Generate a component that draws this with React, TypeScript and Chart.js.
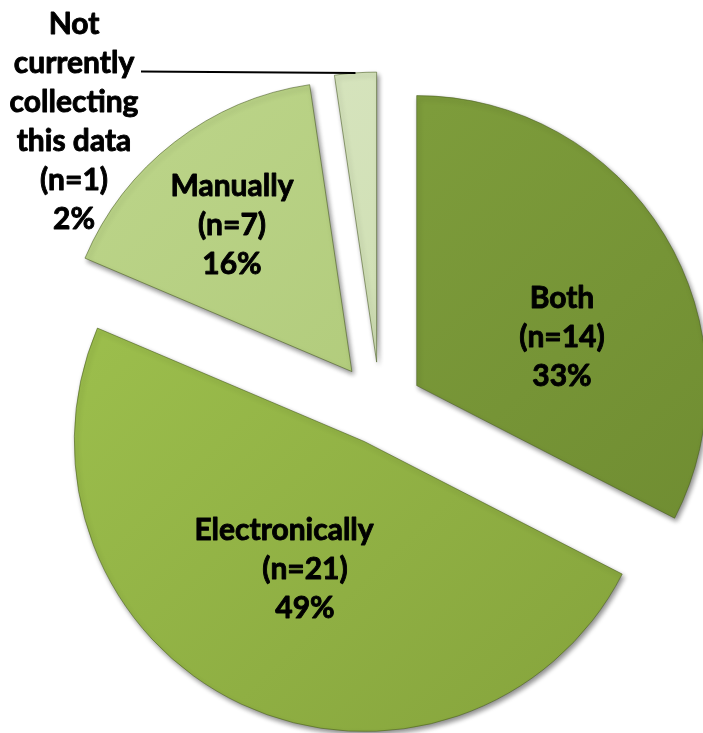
import React, { useEffect, useRef } from 'react';
import { Chart, registerables } from 'chart.js';

Chart.register(...registerables);

// ---- data ----
const CATEGORIES = ['Both', 'Electronically', 'Manually', 'Not currently collecting this data'];
const CATEGORY_LINES = [
  ['Both'],
  ['Electronically'],
  ['Manually'],
  ['Not', 'currently', 'collecting', 'this data'],
];
const COUNTS = [14, 21, 7, 1];

// ---- layout / style ----
const W = 703;
const H = 733;
const RADIUS = 290;
const PAD = { left: 57, right: 0, top: 83, bottom: 0 }; // pie centre at (380, 408)
const EXPLODE = [43, 37, 46, 46];
const SLICE_COLORS = [
  ['#87a742', '#6c892f'],
  ['#a6ca54', '#83a13a'],
  ['#c0d88f', '#a5c16b'],
  ['#dce8c6', '#c4d7a3'],
];
const LABEL_OFFSETS = [
  [182, -72],
  [-75, 160],
  [-148, -184],
  [-306, -287],
];
const FIRST_LINE_DX = [0, -21, 0, 0];
const LINE_H = 39;
const FONT_PX = 30;
const FONT = `bold ${FONT_PX}px Lato, Calibri, sans-serif`;

const total = COUNTS.reduce((a, b) => a + b, 0);
const pctText = (v: number) => `${Math.round((v / total) * 100)}%`;

const centerOf = (chart: any) => {
  const ca = chart.chartArea;
  return { cx: (ca.left + ca.right) / 2, cy: (ca.top + ca.bottom) / 2 };
};

const explodePlugin = {
  id: 'explodeSlices',
  beforeDatasetsDraw(chart: any) {
    const { cx, cy } = centerOf(chart);
    const meta = chart.getDatasetMeta(0);
    meta.data.forEach((el: any, i: number) => {
      const mid = (el.startAngle + el.endAngle) / 2;
      el.x = cx + Math.cos(mid) * EXPLODE[i];
      el.y = cy + Math.sin(mid) * EXPLODE[i];
    });
    const ctx = chart.ctx;
    ctx.save();
    ctx.shadowColor = 'rgba(0,0,0,0.45)';
    ctx.shadowBlur = 5;
    ctx.shadowOffsetX = 2;
    ctx.shadowOffsetY = 3;
  },
  afterDatasetsDraw(chart: any) {
    const ctx = chart.ctx;
    ctx.restore();
    const { cx, cy } = centerOf(chart);
    const meta = chart.getDatasetMeta(0);
    ctx.save();
    ctx.font = FONT;
    ctx.fillStyle = '#000';
    ctx.strokeStyle = '#000';
    ctx.lineWidth = 0.9;
    ctx.lineJoin = 'round';
    ctx.textAlign = 'center';
    ctx.textBaseline = 'alphabetic';
    const capHalf = FONT_PX * 0.36;
    CATEGORIES.forEach((_, i) => {
      const lines = [...CATEGORY_LINES[i], `(n=${COUNTS[i]})`, pctText(COUNTS[i])];
      const ax = cx + LABEL_OFFSETS[i][0];
      const ay = cy + LABEL_OFFSETS[i][1];
      const top = ay - ((lines.length - 1) / 2) * LINE_H;
      lines.forEach((ln, j) => {
        const dx = j === 0 ? FIRST_LINE_DX[i] : 0;
        ctx.fillText(ln, ax + dx, top + j * LINE_H + capHalf);
        ctx.strokeText(ln, ax + dx, top + j * LINE_H + capHalf);
      });
      if (i === 3) {
        const el: any = meta.data[i];
        const mid = (el.startAngle + el.endAngle) / 2;
        const ex = el.x + Math.cos(mid) * el.outerRadius;
        const ey = el.y + Math.sin(mid) * el.outerRadius;
        const sx = ax + 67;
        const sy = top + LINE_H + 9;
        ctx.beginPath();
        ctx.moveTo(sx, sy);
        ctx.lineTo(ex, ey);
        ctx.lineWidth = 2;
        ctx.stroke();
      }
    });
    ctx.restore();
  },
};

export default function App() {
  const ref = useRef<HTMLCanvasElement | null>(null);
  useEffect(() => {
    if (!ref.current) return;
    const chart = new Chart(ref.current, {
      type: 'pie',
      data: {
        labels: CATEGORIES,
        datasets: [
          {
            data: COUNTS,
            radius: RADIUS,
            clip: false,
            borderWidth: 1,
            borderColor: 'rgba(70,90,30,0.55)',
            backgroundColor: (c: any) => {
              const g = c.chart.ctx.createLinearGradient(0, 0, W, H);
              const cols = SLICE_COLORS[c.dataIndex % SLICE_COLORS.length];
              g.addColorStop(0, cols[0]);
              g.addColorStop(1, cols[1]);
              return g;
            },
          } as any,
        ],
      },
      options: {
        responsive: false,
        animation: false,
        layout: { padding: PAD },
        plugins: {
          legend: { display: false },
          tooltip: { enabled: false },
        },
      },
      plugins: [explodePlugin],
    });
    return () => chart.destroy();
  }, []);
  return (
    <div style={{ position: 'absolute', left: 0, top: 0, width: W, height: H, background: '#fff' }}>
      <canvas ref={ref} width={W} height={H} style={{ width: W, height: H, display: 'block' }} />
    </div>
  );
}
